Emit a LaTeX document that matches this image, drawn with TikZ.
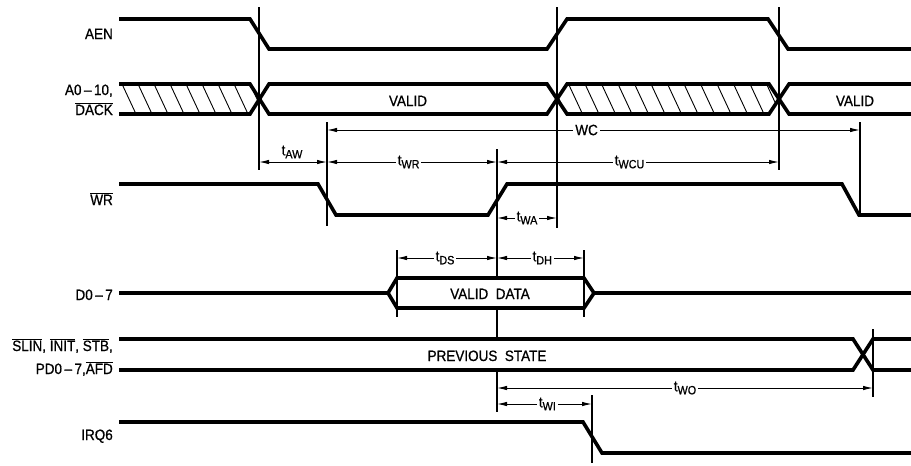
\documentclass[tikz,border=0pt]{standalone}
\usepackage{fontspec}
\setmainfont{Liberation Sans}[FakeStretch=0.9,FakeBold=0.8]
\usetikzlibrary{arrows.meta}
\newcommand\tsub[1]{t\raisebox{-3pt}{\fontsize{12}{12}\selectfont #1}}
\newcommand\ovl[1]{$\overline{\hbox{#1}}$}
\begin{document}
\begin{tikzpicture}[x=1pt,y=-1pt,
  sig/.style={line width=3.6pt},
  guide/.style={line width=1.1pt},
  hatchline/.style={line width=0.9pt},
  dim/.style={line width=1pt,{Latex[length=10pt,width=4.5pt]}-{Latex[length=10pt,width=4.5pt]}},
  lbl/.style={font=\fontsize{15}{18}\selectfont, inner sep=0pt},
  dlab/.style={font=\fontsize{15}{18}\selectfont, fill=white, inner sep=2pt}]
\useasboundingbox (0,0) rectangle (911,466);

% signal names
\node[lbl, anchor=base east] (nAEN) at (113,39) {AEN};
\node[lbl, anchor=base east] (nA0) at (113,95) {A0\,--\,10,};
\node[lbl, anchor=base east] (nDACK) at (113,115) {\ovl{DACK}};
\node[lbl, anchor=base east] (nWR) at (113,205) {\ovl{WR}};
\node[lbl, anchor=base east] (nD07) at (113,300) {D0\,--\,7};
\node[lbl, anchor=base east] (nSLIN) at (113,351) {\ovl{SLIN}, \ovl{INIT}, \ovl{STB},};
\node[lbl, anchor=base east] (nPD) at (113,374) {PD0\,--\,7,\ovl{AFD}};
\node[lbl, anchor=base east] (nIRQ) at (113,440) {IRQ6};

% AEN
\draw[sig] (119,19) -- (250,19) -- (269,49) -- (547,49) -- (567,19) -- (768,19) -- (788,49) -- (911,49);

% A0-10 bus
\draw[sig] (119,84) -- (250,84) -- (269,114) -- (547,114) -- (567,84) -- (769,84) -- (789,114) -- (911,114);
\draw[sig] (119,114) -- (250,114) -- (269,84) -- (547,84) -- (567,114) -- (769,114) -- (789,84) -- (911,84);
\begin{scope}
  \clip (119,84) -- (250,84) -- (259.5,99) -- (250,114) -- (119,114) -- cycle;
  \foreach \x in {122,138,...,262} \draw[hatchline] (\x,84) -- ++(14,30);
\end{scope}
\begin{scope}
  \clip (567,84) -- (769,84) -- (778.5,99) -- (769,114) -- (567,114) -- (557.5,99) -- cycle;
  \foreach \x in {552,568.5,...,790} \draw[hatchline] (\x,84) -- ++(14,30);
\end{scope}
\node[lbl, anchor=base] (valid1) at (408,106) {VALID};
\node[lbl, anchor=base] (valid2) at (855,106) {VALID};

% WR
\draw[sig] (119,184) -- (318,184) -- (336,215) -- (488,215) -- (507,184) -- (842,184) -- (859,215) -- (911,215);

% D0-7
\draw[sig] (119,293) -- (388,293) -- (397,278) -- (584,278) -- (594,293) -- (911,293);
\draw[sig] (388,293) -- (397,308) -- (584,308) -- (594,293);
\node[lbl, anchor=base] (vdata) at (490,299) {VALID\ \ DATA};

% SLIN bus
\draw[sig] (119,339) -- (853,339) -- (873,370) -- (911,370);
\draw[sig] (119,370) -- (853,370) -- (873,339) -- (911,339);
\node[lbl, anchor=base] (prev) at (487,361) {PREVIOUS\ \ STATE};

% IRQ6
\draw[sig] (119,422) -- (583,422) -- (602,453) -- (911,453);

% guide lines
\draw[guide] (259,7) -- (259,170);
\draw[guide] (557,7) -- (557,228);
\draw[guide] (779,7) -- (779,170);
\draw[guide] (860,122) -- (860,213);
\draw[guide] (327,122) -- (327,226);
\draw[guide] (497,149) -- (497,278) (497,308) -- (497,339) (497,370) -- (497,412);
\draw[guide] (397,250) -- (397,317);
\draw[guide] (584,250) -- (584,317);
\draw[guide] (873,329) -- (873,397);
\draw[guide] (592,395) -- (592,463);

% dimensions
\draw[dim] (327,130) -- (860,130) node[dlab, pos=0.487] (lWC) {WC};
\draw[dim] (259,162) -- (327,162);
\node[lbl] (lAW) at (292,152) {\tsub{AW}};
\draw[dim] (327,162) -- (497,162) node[dlab, pos=0.48] (lWR) {\tsub{WR}};
\draw[dim] (497,162) -- (779,162) node[dlab, pos=0.47] (lWCU) {\tsub{WCU}};
\draw[dim] (497,218) -- (557,218) node[dlab, midway] (lWA) {\tsub{WA}};
\draw[dim] (397,258) -- (497,258) node[dlab, pos=0.48] (lDS) {\tsub{DS}};
\draw[dim] (497,258) -- (584,258) node[dlab, pos=0.52] (lDH) {\tsub{DH}};
\draw[dim] (497,388) -- (873,388) node[dlab, midway] (lWO) {\tsub{WO}};
\draw[dim] (497,404) -- (592,404) node[dlab, pos=0.53] (lWI) {\tsub{WI}};
\end{tikzpicture}
\end{document}
